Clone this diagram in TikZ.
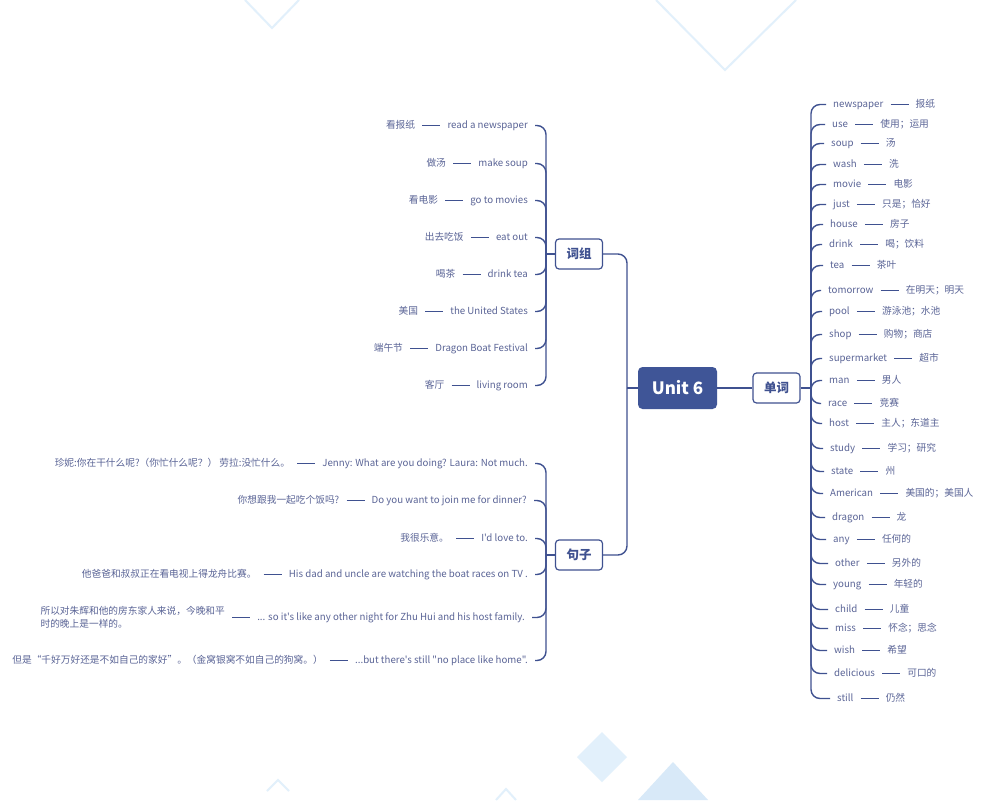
\documentclass[tikz,border=0pt]{standalone}
\usepackage{fontspec}
\setmainfont{Noto Sans CJK SC}[Ligatures=TeXOff]
\usetikzlibrary{positioning}
\definecolor{ln}{HTML}{3F5190}
\definecolor{tx}{HTML}{5A6496}
\definecolor{hd}{HTML}{3F5597}
\definecolor{deco}{HTML}{E2F0FB}
\definecolor{decob}{HTML}{D8E9F8}
\begin{document}
\begin{tikzpicture}[x=1pt,y=-1pt,
  item/.style={font=\fontsize{9.7}{13}\selectfont, text=tx, inner xsep=7pt, inner ysep=1pt},
  fix/.style={text height=8pt, text depth=2.5pt},
  lnk/.style={draw=ln, line width=1.4pt},
  stub/.style={draw=ln, line width=1.4pt, rounded corners=9pt},
  cat/.style={draw=ln, line width=1.2pt, rounded corners=3.5pt, minimum width=47pt, minimum height=30pt,
    inner sep=0pt, font=\fontsize{12.5}{14}\selectfont\bfseries, text=ln, fill=white},
  root/.style={fill=hd, rounded corners=4.5pt, minimum width=79pt, minimum height=42pt,
    inner sep=0pt, font=\fontsize{17}{20}\selectfont\bfseries, text=white},
  decoline/.style={draw=deco, line width=2pt}]
\fill[white] (0,0) rectangle (1000,800);
\useasboundingbox (0,0) rectangle (1000,800);
% background decorations
\draw[decoline] (245,0) -- (272,28) -- (299,0);
\draw[decoline] (656,0) -- (725,70) -- (796,0);
\fill[deco] (602,732) -- (627,757) -- (602,782) -- (577,757) -- cycle;
\fill[decob] (673,762) -- (708,800) -- (638,800) -- cycle;
\draw[decoline] (267,791) -- (278,780) -- (289,791);
\draw[decoline] (496,800) -- (506,789) -- (516,800);
% central structure
\node[root] (U) at (677.5,388) {Unit 6};
\node[cat] (W) at (776.5,388) {单词};
\node[cat] (P) at (579,254) {词组};
\node[cat] (S) at (579,555) {句子};
\coordinate (J) at (627,388);
\coordinate (RS) at (811,388);
\coordinate (LP) at (546,254);
\coordinate (LS) at (546,555);
\draw[lnk] (U) -- (W);
\draw[lnk] (U.west) -- (J);
\draw[stub] (J) |- (P.east);
\draw[stub] (J) |- (S.east);
\draw[lnk] (W.east) -- (RS);
\draw[lnk] (P.west) -- (LP);
\draw[lnk] (S.west) -- (LS);
% words
\foreach \w/\m/\x/\y [count=\i] in {
  newspaper/报纸/833/103, use/使用；运用/832/123, soup/汤/831/142, wash/洗/833/163,
  movie/电影/833/183, just/只是；恰好/833/203, house/房子/830/223, drink/喝；饮料/829/243,
  tea/茶叶/830/264, tomorrow/在明天；明天/828/289, pool/游泳池；水池/829/310,
  shop/购物；商店/829/333, supermarket/超市/829/357, man/男人/829/379, race/竞赛/828/402,
  host/主人；东道主/829/422, study/学习；研究/830/447, state/州/831/470,
  American/美国的；美国人/830/492, dragon/龙/832/516, any/任何的/833/538,
  other/另外的/835/562, young/年轻的/833/583, child/儿童/835/608, miss/怀念；思念/835/627,
  wish/希望/834/649, delicious/可口的/834/672, still/仍然/837/697}{
  \node[item,fix,anchor=west] (w\i) at (\x-7,\y+1.5) {\w};
  \node[item,fix,right=18pt of w\i] (m\i) {\m};
  \draw[lnk] (w\i) -- (m\i);
  \draw[stub] (RS) |- (w\i.west);
}
% phrases
\foreach \c/\e/\y [count=\i] in {
  看报纸/read a newspaper/124, 做汤/make soup/162, 看电影/go to movies/199,
  出去吃饭/eat out/236, 喝茶/drink tea/273, 美国/the United States/310,
  端午节/Dragon Boat Festival/347, 客厅/living room/384}{
  \node[item,fix,anchor=east] (pe\i) at (535,\y+1.5) {\e};
  \node[item,fix,left=18pt of pe\i] (pc\i) {\c};
  \draw[lnk] (pc\i) -- (pe\i);
  \draw[stub] (LP) |- (pe\i.east);
}
% sentences
\node[item,fix,anchor=east] (se1) at (535,463.5) {Jenny: What are you doing? Laura: Not much.};
\node[item,fix,left=18pt of se1] (sc1) {珍妮:你在干什么呢?（你忙什么呢？） 劳拉:没忙什么。};
\node[item,fix,anchor=east] (se2) at (534,500.5) {Do you want to join me for dinner?};
\node[item,fix,left=18pt of se2] (sc2) {你想跟我一起吃个饭吗?};
\node[item,fix,anchor=east] (se3) at (535,538.5) {I'd love to.};
\node[item,fix,left=18pt of se3] (sc3) {我很乐意。};
\node[item,fix,anchor=east] (se4) at (535,574.5) {His dad and uncle are watching the boat races on TV .};
\node[item,fix,left=18pt of se4] (sc4) {他爸爸和叔叔正在看电视上得龙舟比赛。};
\node[item,fix,anchor=east] (se5) at (532,617.5) {... so it's like any other night for Zhu Hui and his host family.};
\node[item,align=left,left=18pt of se5] (sc5) {所以对朱辉和他的房东家人来说，今晚和平\\时的晚上是一样的。};
\node[item,fix,anchor=east] (se6) at (535,660.5) {...but there's still "no place like home".};
\node[item,fix,left=18pt of se6] (sc6) {但是“千好万好还是不如自己的家好”。（金窝银窝不如自己的狗窝。）};
\foreach \i in {1,...,6}{
  \draw[lnk] (sc\i.east |- se\i.west) -- (se\i.west);
  \draw[stub] (LS) |- (se\i.east);
}
\end{tikzpicture}
\end{document}
